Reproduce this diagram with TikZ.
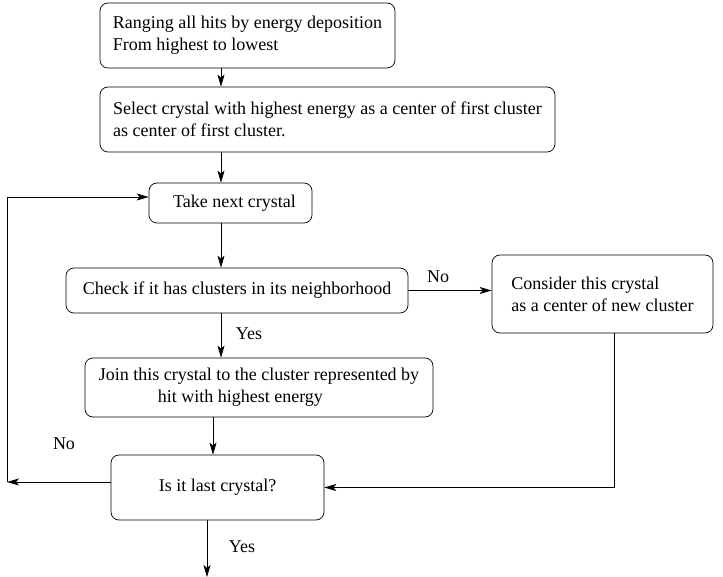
\documentclass[tikz,border=0pt]{standalone}
\usepackage{fontspec}
\setmainfont{Liberation Serif}
\usetikzlibrary{arrows.meta}

\begin{document}
\begin{tikzpicture}[x=1pt,y=-1pt,line width=0.7pt,
  box/.style={draw, rounded corners=8pt, align=left, font=\fontsize{18}{22}\selectfont},
  lbl/.style={font=\fontsize{18}{22}\selectfont},
  >={Stealth[length=12pt,width=7pt,inset=3pt]}]
\useasboundingbox (0,0) rectangle (723,577);
\node[box, minimum width=295pt, minimum height=65pt] (rank) at (247.5,35.5) {Ranging all hits by energy deposition\\From highest to lowest};
\node[box, minimum width=455pt, minimum height=65pt] (select) at (327.5,119.5) {Select crystal with highest energy as a center of first cluster\\as center of first cluster.};
\node[box, minimum width=163pt, minimum height=40pt] (take) at (230.5,203) {\hspace*{8pt}Take next crystal};
\node[box, minimum width=342pt, minimum height=45pt] (check) at (237,290.5) {Check if it has clusters in its neighborhood};
\node[box, minimum width=221pt, minimum height=78pt] (consider) at (602.5,294) {Consider this crystal\\as a center of new cluster};
\node[box, minimum width=348pt, minimum height=59pt] (join) at (259,387.5) {Join this crystal to the cluster represented by\\\hspace*{59pt}hit with highest energy};
\node[box, minimum width=213pt, minimum height=65pt] (last) at (217.5,487.5) {Is it last crystal?};
\node[lbl] (no1) at (438,277) {No};
\node[lbl] (yes1) at (249,334) {Yes};
\node[lbl] (no2) at (64,444) {No};
\node[lbl] (yes2) at (242,547) {Yes};
\coordinate (colA) at (221,0);
\coordinate (colB) at (213,0);
\coordinate (colC) at (207,0);
\coordinate (colR) at (614,0);
\coordinate (loopTop) at (7,197);
\coordinate (loopBot) at (7,482);
\coordinate (outend) at (207,577);
\draw[->] (rank.south -| colA) -- (select.north -| colA);
\draw[->] (select.south -| colA) -- (take.north -| colA);
\draw[->] (take.south -| colA) -- (check.north -| colA);
\draw[->] (check.south -| colA) -- (join.north -| colA);
\draw[->] (join.south -| colB) -- (last.north -| colB);
\draw[->] (last.south -| colC) -- (outend);
\draw[->] (check.east) -- (check.east -| consider.west);
\draw[->] (consider.south -| colR) |- (last.east);
\draw[->] (last.west |- loopBot) -- (loopBot);
\draw[->] (loopBot) |- (take.west |- loopTop);
\end{tikzpicture}
\end{document}
